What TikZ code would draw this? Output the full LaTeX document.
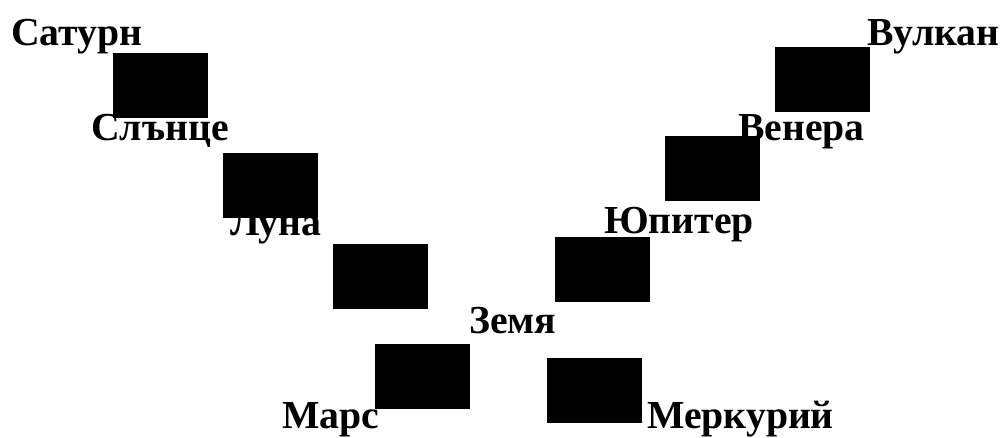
\documentclass[tikz,border=0pt]{standalone}
\usepackage{fontspec}
\setmainfont{Liberation Serif}
\usetikzlibrary{positioning}

\begin{document}
\begin{tikzpicture}[x=1pt, y=-1pt]
	% ------- style -------
	\tikzset{%
		planet/.style={%
			anchor=base west,
			inner sep=0pt,
			font=\fontsize{39.7}{42}\selectfont\bfseries,
		},
		block/.style={%
			fill=black,
			inner sep=0pt,
			minimum width=95pt,
			minimum height=65pt,
		},
	}
	\useasboundingbox (0,0) rectangle (1003,437);
	
	% ------- labels -------
	\node[planet] (Saturn)  at (11,45)  {Сатурн};
	\node[planet] (Sun)     at (91,140) {Слънце};
	\node[planet] (Moon)    at (230,235) {Луна};
	\node[planet] (Earth)   at (469,333) {Земя};
	\node[planet] (Mars)    at (282,428) {Марс};
	\node[planet] (Mercury) at (647,428) {Меркурий};
	\node[planet] (Jupiter) at (604,233) {Юпитер};
	\node[planet] (Venus)   at (738,140) {Венера};
	\node[planet] (Vulcan)  at (867,45)  {Вулкан};
	
	% ------- blocks -------
	\node[block] (Saturn-Sun)    at (160.5,85.5)  {};
	\node[block] (Sun-Moon)      at (270.5,185.5) {};
	\node[block] (Moon-Earth)    at (380.5,276.5) {};
	\node[block] (Earth-Mars)    at (422,376)     {};
	\node[block] (Earth-Mercury) at (594.5,390.5) {};
	\node[block] (Earth-Jupiter) at (602.5,269)   {};
	\node[block] (Jupiter-Venus) at (712.5,168)   {};
	\node[block] (Venus-Vulcan)  at (822.5,79)    {};
\end{tikzpicture}
\end{document}
